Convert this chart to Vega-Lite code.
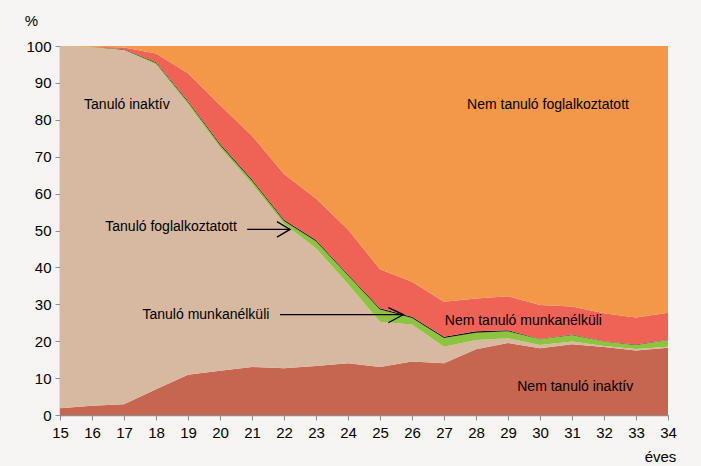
{
  "$schema": "https://vega.github.io/schema/vega-lite/v6.json",
  "width": 608,
  "height": 369,
  "autosize": "none",
  "padding": {"left": 60, "top": 46, "right": 33, "bottom": 51},
  "background": "#f6f5f3",
  "config": {
    "view": {"stroke": null},
    "font": "Liberation Sans",
    "axisX": {
      "values": [15,16,17,18,19,20,21,22,23,24,25,26,27,28,29,30,31,32,33,34],
      "format": "d", "grid": false,
      "tickSize": 5, "tickColor": "#8c8c8c", "domainColor": "#8c8c8c", "domainWidth": 1.5,
      "labelFontSize": 15, "labelColor": "#000000", "labelPadding": 5,
      "labelOverlap": false, "labelFlush": false,
      "titleFontSize": 15, "titleFontWeight": "normal", "titleColor": "#000000",
      "titleX": 600, "titleY": 41, "titleAlign": "center", "titleBaseline": "middle"
    },
    "axisY": {
      "values": [0,10,20,30,40,50,60,70,80,90,100],
      "grid": false, "labelOverlap": false,
      "tickSize": 5, "tickColor": "#8c8c8c", "domainColor": "#8c8c8c", "domainWidth": 1.5,
      "labelFontSize": 15, "labelColor": "#000000", "labelPadding": 4,
      "titleAngle": 0, "titleFontSize": 15, "titleFontWeight": "normal", "titleColor": "#000000",
      "titleX": -29, "titleY": -26, "titleAlign": "center", "titleBaseline": "middle"
    }
  },
  "datasets": {
    "main": [
      {"age":15,"cat":"Nem tanuló inaktív","k":1,"v":1.8},{"age":15,"cat":"Tanuló inaktív","k":2,"v":98.2},{"age":15,"cat":"Tanuló foglalkoztatott","k":3,"v":0},{"age":15,"cat":"Tanuló munkanélküli","k":4,"v":0},{"age":15,"cat":"Nem tanuló munkanélküli","k":5,"v":0},{"age":15,"cat":"Nem tanuló foglalkoztatott","k":6,"v":0},
      {"age":16,"cat":"Nem tanuló inaktív","k":1,"v":2.5},{"age":16,"cat":"Tanuló inaktív","k":2,"v":97.1},{"age":16,"cat":"Tanuló foglalkoztatott","k":3,"v":0.1},{"age":16,"cat":"Tanuló munkanélküli","k":4,"v":0},{"age":16,"cat":"Nem tanuló munkanélküli","k":5,"v":0.1},{"age":16,"cat":"Nem tanuló foglalkoztatott","k":6,"v":0.2},
      {"age":17,"cat":"Nem tanuló inaktív","k":1,"v":2.9},{"age":17,"cat":"Tanuló inaktív","k":2,"v":96.0},{"age":17,"cat":"Tanuló foglalkoztatott","k":3,"v":0.1},{"age":17,"cat":"Tanuló munkanélküli","k":4,"v":0.1},{"age":17,"cat":"Nem tanuló munkanélküli","k":5,"v":0.5},{"age":17,"cat":"Nem tanuló foglalkoztatott","k":6,"v":0.4},
      {"age":18,"cat":"Nem tanuló inaktív","k":1,"v":7.0},{"age":18,"cat":"Tanuló inaktív","k":2,"v":88.0},{"age":18,"cat":"Tanuló foglalkoztatott","k":3,"v":0.4},{"age":18,"cat":"Tanuló munkanélküli","k":4,"v":0.2},{"age":18,"cat":"Nem tanuló munkanélküli","k":5,"v":2.4},{"age":18,"cat":"Nem tanuló foglalkoztatott","k":6,"v":2.0},
      {"age":19,"cat":"Nem tanuló inaktív","k":1,"v":10.9},{"age":19,"cat":"Tanuló inaktív","k":2,"v":73.3},{"age":19,"cat":"Tanuló foglalkoztatott","k":3,"v":0.6},{"age":19,"cat":"Tanuló munkanélküli","k":4,"v":0.3},{"age":19,"cat":"Nem tanuló munkanélküli","k":5,"v":7.5},{"age":19,"cat":"Nem tanuló foglalkoztatott","k":6,"v":7.4},
      {"age":20,"cat":"Nem tanuló inaktív","k":1,"v":12.0},{"age":20,"cat":"Tanuló inaktív","k":2,"v":60.5},{"age":20,"cat":"Tanuló foglalkoztatott","k":3,"v":0.7},{"age":20,"cat":"Tanuló munkanélküli","k":4,"v":0.3},{"age":20,"cat":"Nem tanuló munkanélküli","k":5,"v":10.5},{"age":20,"cat":"Nem tanuló foglalkoztatott","k":6,"v":16.0},
      {"age":21,"cat":"Nem tanuló inaktív","k":1,"v":13.0},{"age":21,"cat":"Tanuló inaktív","k":2,"v":49.7},{"age":21,"cat":"Tanuló foglalkoztatott","k":3,"v":0.8},{"age":21,"cat":"Tanuló munkanélküli","k":4,"v":0.3},{"age":21,"cat":"Nem tanuló munkanélküli","k":5,"v":11.9},{"age":21,"cat":"Nem tanuló foglalkoztatott","k":6,"v":24.3},
      {"age":22,"cat":"Nem tanuló inaktív","k":1,"v":12.7},{"age":22,"cat":"Tanuló inaktív","k":2,"v":39.1},{"age":22,"cat":"Tanuló foglalkoztatott","k":3,"v":0.8},{"age":22,"cat":"Tanuló munkanélküli","k":4,"v":0.3},{"age":22,"cat":"Nem tanuló munkanélküli","k":5,"v":12.4},{"age":22,"cat":"Nem tanuló foglalkoztatott","k":6,"v":34.7},
      {"age":23,"cat":"Nem tanuló inaktív","k":1,"v":13.3},{"age":23,"cat":"Tanuló inaktív","k":2,"v":31.9},{"age":23,"cat":"Tanuló foglalkoztatott","k":3,"v":1.9},{"age":23,"cat":"Tanuló munkanélküli","k":4,"v":0.3},{"age":23,"cat":"Nem tanuló munkanélküli","k":5,"v":11.3},{"age":23,"cat":"Nem tanuló foglalkoztatott","k":6,"v":41.3},
      {"age":24,"cat":"Nem tanuló inaktív","k":1,"v":14.0},{"age":24,"cat":"Tanuló inaktív","k":2,"v":21.5},{"age":24,"cat":"Tanuló foglalkoztatott","k":3,"v":2.3},{"age":24,"cat":"Tanuló munkanélküli","k":4,"v":0.3},{"age":24,"cat":"Nem tanuló munkanélküli","k":5,"v":12.2},{"age":24,"cat":"Nem tanuló foglalkoztatott","k":6,"v":49.7},
      {"age":25,"cat":"Nem tanuló inaktív","k":1,"v":13.0},{"age":25,"cat":"Tanuló inaktív","k":2,"v":12.3},{"age":25,"cat":"Tanuló foglalkoztatott","k":3,"v":3.3},{"age":25,"cat":"Tanuló munkanélküli","k":4,"v":0.3},{"age":25,"cat":"Nem tanuló munkanélküli","k":5,"v":10.6},{"age":25,"cat":"Nem tanuló foglalkoztatott","k":6,"v":60.5},
      {"age":26,"cat":"Nem tanuló inaktív","k":1,"v":14.5},{"age":26,"cat":"Tanuló inaktív","k":2,"v":10.0},{"age":26,"cat":"Tanuló foglalkoztatott","k":3,"v":1.8},{"age":26,"cat":"Tanuló munkanélküli","k":4,"v":0.3},{"age":26,"cat":"Nem tanuló munkanélküli","k":5,"v":9.5},{"age":26,"cat":"Nem tanuló foglalkoztatott","k":6,"v":63.9},
      {"age":27,"cat":"Nem tanuló inaktív","k":1,"v":14.0},{"age":27,"cat":"Tanuló inaktív","k":2,"v":4.5},{"age":27,"cat":"Tanuló foglalkoztatott","k":3,"v":2.4},{"age":27,"cat":"Tanuló munkanélküli","k":4,"v":0.3},{"age":27,"cat":"Nem tanuló munkanélküli","k":5,"v":9.5},{"age":27,"cat":"Nem tanuló foglalkoztatott","k":6,"v":69.3},
      {"age":28,"cat":"Nem tanuló inaktív","k":1,"v":17.8},{"age":28,"cat":"Tanuló inaktív","k":2,"v":2.5},{"age":28,"cat":"Tanuló foglalkoztatott","k":3,"v":2.0},{"age":28,"cat":"Tanuló munkanélküli","k":4,"v":0.4},{"age":28,"cat":"Nem tanuló munkanélküli","k":5,"v":8.9},{"age":28,"cat":"Nem tanuló foglalkoztatott","k":6,"v":68.4},
      {"age":29,"cat":"Nem tanuló inaktív","k":1,"v":19.5},{"age":29,"cat":"Tanuló inaktív","k":2,"v":1.3},{"age":29,"cat":"Tanuló foglalkoztatott","k":3,"v":1.9},{"age":29,"cat":"Tanuló munkanélküli","k":4,"v":0.3},{"age":29,"cat":"Nem tanuló munkanélküli","k":5,"v":9.2},{"age":29,"cat":"Nem tanuló foglalkoztatott","k":6,"v":67.8},
      {"age":30,"cat":"Nem tanuló inaktív","k":1,"v":18.1},{"age":30,"cat":"Tanuló inaktív","k":2,"v":0.9},{"age":30,"cat":"Tanuló foglalkoztatott","k":3,"v":1.5},{"age":30,"cat":"Tanuló munkanélküli","k":4,"v":0.1},{"age":30,"cat":"Nem tanuló munkanélküli","k":5,"v":9.2},{"age":30,"cat":"Nem tanuló foglalkoztatott","k":6,"v":70.2},
      {"age":31,"cat":"Nem tanuló inaktív","k":1,"v":19.2},{"age":31,"cat":"Tanuló inaktív","k":2,"v":0.7},{"age":31,"cat":"Tanuló foglalkoztatott","k":3,"v":1.8},{"age":31,"cat":"Tanuló munkanélküli","k":4,"v":0.1},{"age":31,"cat":"Nem tanuló munkanélküli","k":5,"v":7.6},{"age":31,"cat":"Nem tanuló foglalkoztatott","k":6,"v":70.6},
      {"age":32,"cat":"Nem tanuló inaktív","k":1,"v":18.4},{"age":32,"cat":"Tanuló inaktív","k":2,"v":0.3},{"age":32,"cat":"Tanuló foglalkoztatott","k":3,"v":1.2},{"age":32,"cat":"Tanuló munkanélküli","k":4,"v":0.1},{"age":32,"cat":"Nem tanuló munkanélküli","k":5,"v":7.6},{"age":32,"cat":"Nem tanuló foglalkoztatott","k":6,"v":72.4},
      {"age":33,"cat":"Nem tanuló inaktív","k":1,"v":17.5},{"age":33,"cat":"Tanuló inaktív","k":2,"v":0.4},{"age":33,"cat":"Tanuló foglalkoztatott","k":3,"v":1.1},{"age":33,"cat":"Tanuló munkanélküli","k":4,"v":0.1},{"age":33,"cat":"Nem tanuló munkanélküli","k":5,"v":7.3},{"age":33,"cat":"Nem tanuló foglalkoztatott","k":6,"v":73.6},
      {"age":34,"cat":"Nem tanuló inaktív","k":1,"v":18.2},{"age":34,"cat":"Tanuló inaktív","k":2,"v":0.3},{"age":34,"cat":"Tanuló foglalkoztatott","k":3,"v":1.8},{"age":34,"cat":"Tanuló munkanélküli","k":4,"v":0.1},{"age":34,"cat":"Nem tanuló munkanélküli","k":5,"v":7.3},{"age":34,"cat":"Nem tanuló foglalkoztatott","k":6,"v":72.3}
    ],
    "arrows": [
      {"g":"s1","o":1,"age":20.85,"v":50.3},{"g":"s1","o":2,"age":22.19,"v":50.3},
      {"g":"h1","o":1,"age":21.78,"v":52.4},{"g":"h1","o":2,"age":22.19,"v":50.3},{"g":"h1","o":3,"age":21.78,"v":48.2},
      {"g":"s2","o":1,"age":21.875,"v":27.2},{"g":"s2","o":2,"age":25.73,"v":27.2},
      {"g":"h2","o":1,"age":25.26,"v":29.1},{"g":"h2","o":2,"age":25.73,"v":27.2},{"g":"h2","o":3,"age":25.26,"v":25.0}
    ],
    "labels": [
      {"lab":"Tanuló inaktív","age":17.09,"v":84.0},
      {"lab":"Nem tanuló foglalkoztatott","age":30.25,"v":84.0},
      {"lab":"Tanuló foglalkoztatott","age":18.47,"v":50.9},
      {"lab":"Tanuló munkanélküli","age":19.56,"v":27.1},
      {"lab":"Nem tanuló munkanélküli","age":29.48,"v":25.6},
      {"lab":"Nem tanuló inaktív","age":31.1,"v":7.5}
    ]
  },
  "layer": [
    {
      "data": {"name": "main"},
      "mark": {"type": "area", "interpolate": "linear"},
      "encoding": {
        "x": {
          "field": "age", "type": "quantitative", "title": "éves",
          "scale": {"domain": [15, 34], "nice": false, "zero": false}
        },
        "y": {
          "field": "v", "type": "quantitative", "stack": "zero", "title": "%",
          "scale": {"domain": [0, 100], "nice": false}
        },
        "color": {
          "field": "cat", "type": "nominal",
          "scale": {
            "domain": ["Nem tanuló inaktív","Tanuló inaktív","Tanuló foglalkoztatott","Tanuló munkanélküli","Nem tanuló munkanélküli","Nem tanuló foglalkoztatott"],
            "range": ["#c66550","#d6b9a0","#8cc43f","#111111","#ef6356","#f39849"]
          },
          "legend": null
        },
        "order": {"field": "k", "type": "quantitative"}
      }
    },
    {
      "mark": {"type": "rule", "color": "#8c8c8c", "strokeWidth": 1.5},
      "encoding": {"y": {"datum": 100, "title": "%"}}
    },
    {
      "data": {"name": "arrows"},
      "mark": {"type": "line", "color": "#000000", "strokeWidth": 1.3},
      "encoding": {
        "x": {"field": "age", "type": "quantitative", "title": "éves"},
        "y": {"field": "v", "type": "quantitative", "stack": null, "title": "%"},
        "detail": {"field": "g"},
        "order": {"field": "o", "type": "quantitative"}
      }
    },
    {
      "data": {"name": "labels"},
      "mark": {"type": "text", "font": "Liberation Sans", "fontSize": 14, "color": "#000000", "align": "center", "baseline": "middle"},
      "encoding": {
        "x": {"field": "age", "type": "quantitative", "title": "éves"},
        "y": {"field": "v", "type": "quantitative", "stack": null, "title": "%"},
        "text": {"field": "lab"}
      }
    }
  ]
}
